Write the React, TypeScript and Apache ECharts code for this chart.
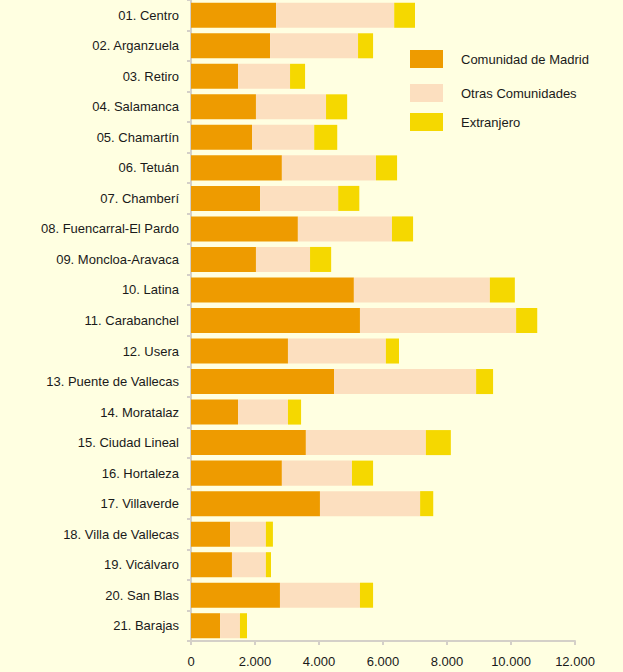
import React, { useEffect, useRef } from "react";
import * as echarts from "echarts";

const categories = [
  "01. Centro",
  "02. Arganzuela",
  "03. Retiro",
  "04. Salamanca",
  "05. Chamartín",
  "06. Tetuán",
  "07. Chamberí",
  "08. Fuencarral-El Pardo",
  "09. Moncloa-Aravaca",
  "10. Latina",
  "11. Carabanchel",
  "12. Usera",
  "13. Puente de Vallecas",
  "14. Moratalaz",
  "15. Ciudad Lineal",
  "16. Hortaleza",
  "17. Villaverde",
  "18. Villa de Vallecas",
  "19. Vicálvaro",
  "20. San Blas",
  "21. Barajas",
];

const comunidadMadrid = [2660, 2470, 1470, 2030, 1910, 2840, 2160, 3340, 2030, 5090, 5280, 3030, 4470, 1470, 3590, 2840, 4030, 1220, 1280, 2780, 910];
const otrasComunidades = [3690, 2750, 1625, 2190, 1940, 2940, 2440, 2940, 1690, 4250, 4880, 3060, 4440, 1560, 3750, 2190, 3130, 1120, 1060, 2500, 620];
const extranjero = [650, 470, 470, 660, 720, 660, 660, 660, 660, 780, 660, 410, 530, 410, 780, 660, 410, 220, 160, 410, 220];

const seriesNames = ["Comunidad de Madrid", "Otras Comunidades", "Extranjero"];
const seriesColors = ["#EE9B00", "#FCDFBF", "#F5D800"];

const fmt = (v: number) => {
  const s = Math.round(v).toString();
  return s.replace(/\B(?=(\d{3})+(?!\d))/g, ".");
};

export default function App() {
  const ref = useRef<HTMLDivElement>(null);
  useEffect(() => {
    if (!ref.current) return;
    const chart = echarts.init(ref.current, undefined, { renderer: "svg" });
    const font = "'Liberation Sans', Arial, sans-serif";
    const data = [comunidadMadrid, otrasComunidades, extranjero];
    const legendTops = [50, 84, 113];
    chart.setOption({
      animation: false,
      backgroundColor: "#FFFFE1",
      textStyle: { fontFamily: font },
      grid: { left: 191, right: 48, top: 0, bottom: 31, containLabel: false },
      legend: seriesNames.map((n, i) => ({
        data: [n],
        left: 410,
        top: legendTops[i],
        itemWidth: 33,
        itemHeight: 18,
        itemGap: 0,
        icon: "rect",
        textStyle: { fontSize: 13, color: "#1a1a1a", fontFamily: font, padding: [0, 0, 6, 13] },
        selectedMode: false,
        padding: 0,
      })),
      xAxis: {
        type: "value",
        min: 0,
        max: 12000,
        interval: 2000,
        axisLine: { show: true, lineStyle: { color: "#D4D0C8", width: 2 } },
        axisTick: { show: true, length: 4, lineStyle: { color: "#D4D0C8", width: 2 } },
        splitLine: { show: false },
        axisLabel: {
          formatter: (v: number) => fmt(v),
          fontSize: 13,
          color: "#1a1a1a",
          margin: 14,
          fontFamily: font,
        },
      },
      yAxis: {
        type: "category",
        data: categories,
        inverse: true,
        axisLine: { show: true, lineStyle: { color: "#D4D0C8", width: 2 } },
        axisTick: { show: true, length: 4, lineStyle: { color: "#D4D0C8", width: 2 } },
        axisLabel: { fontSize: 13, color: "#1a1a1a", margin: 12, fontFamily: font },
      },
      series: seriesNames.map((n, i) => ({
        name: n,
        type: "bar",
        stack: "total",
        data: data[i],
        barCategoryGap: "18%",
        itemStyle: { color: seriesColors[i] },
      })),
    });
    return () => chart.dispose();
  }, []);
  return (
    <div
      ref={ref}
      style={{ position: "absolute", left: 0, top: 0, width: 623, height: 672 }}
    />
  );
}
